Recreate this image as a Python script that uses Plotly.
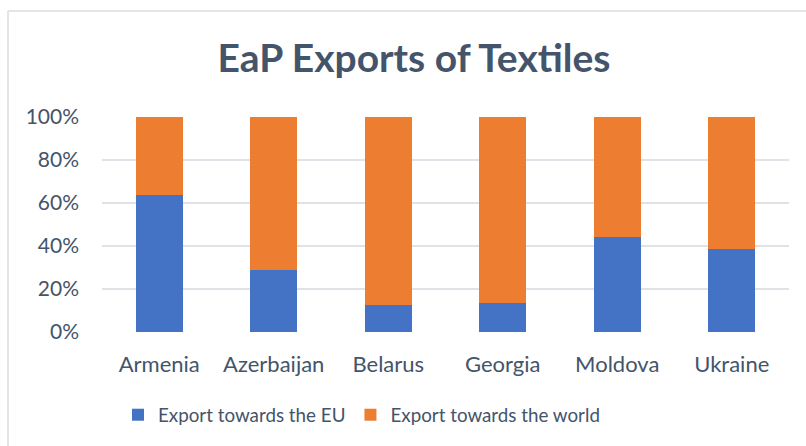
import plotly.graph_objects as go

# Share of textile exports by destination (percent of total)
countries = ["Armenia", "Azerbaijan", "Belarus", "Georgia", "Moldova", "Ukraine"]
export_eu = [63.7, 28.9, 12.7, 13.6, 44.2, 38.6]
export_world = [round(100 - v, 1) for v in export_eu]
tick_vals = [0, 20, 40, 60, 80, 100]
tick_text = ["0%", "20%", "40%", "60%", "80%", "100%"]

W, H = 806, 446
ML, MR, MT, MB = 102, 17, 117, 114
FONT = "Lato"
TEXT = "#44546A"

fig = go.Figure()
fig.add_trace(go.Bar(
    x=countries, y=export_eu, name="Export towards the EU",
    marker=dict(color="#4472C4", line=dict(width=0)),
))
fig.add_trace(go.Bar(
    x=countries, y=export_world, name="Export towards the world",
    marker=dict(color="#ED7D31", line=dict(width=0)),
))

pw = W - ML - MR
ph = H - MT - MB

def px_x(p):
    return (p - ML) / pw

def px_y(p):
    return (H - MB - p) / ph

fig.update_layout(
    width=W, height=H,
    barmode="stack", bargap=0.59,
    margin=dict(l=ML, r=MR, t=MT, b=MB),
    paper_bgcolor="white", plot_bgcolor="white",
    font=dict(family=FONT, color=TEXT),
    title=dict(
        text="<b>EaP Exports of Textiles</b>",
        x=414 / W, xanchor="center", xref="container",
        y=(H - 58) / H, yanchor="middle", yref="container",
        font=dict(family=FONT, size=39, color=TEXT),
    ),
    xaxis=dict(
        showgrid=False, showline=False, zeroline=False,
        tickfont=dict(size=22, color=TEXT),
        ticks="outside", ticklen=0, ticklabelstandoff=13,
    ),
    yaxis=dict(
        range=[0, 100], tickvals=tick_vals, ticktext=tick_text,
        showgrid=True, gridcolor="#dfe2e6", gridwidth=1.5,
        zeroline=False, showline=False,
        tickfont=dict(size=21, color=TEXT),
        ticklabelstandoff=22,
    ),
    legend=dict(
        orientation="h", x=px_x(118), xanchor="left",
        y=px_y(415), yanchor="middle",
        font=dict(size=18.8, color=TEXT),
        itemwidth=30, itemsizing="constant", traceorder="normal",
        entrywidth=0,
    ),
    shapes=[
        dict(type="line", xref="paper", yref="paper",
             x0=px_x(8), x1=px_x(W + 5), y0=px_y(11), y1=px_y(11),
             line=dict(color="#d9dde3", width=1.5)),
        dict(type="line", xref="paper", yref="paper",
             x0=px_x(8), x1=px_x(8), y0=px_y(11), y1=px_y(H + 5),
             line=dict(color="#d9dde3", width=1.5)),
    ],
)

fig.write_html("out.html")
